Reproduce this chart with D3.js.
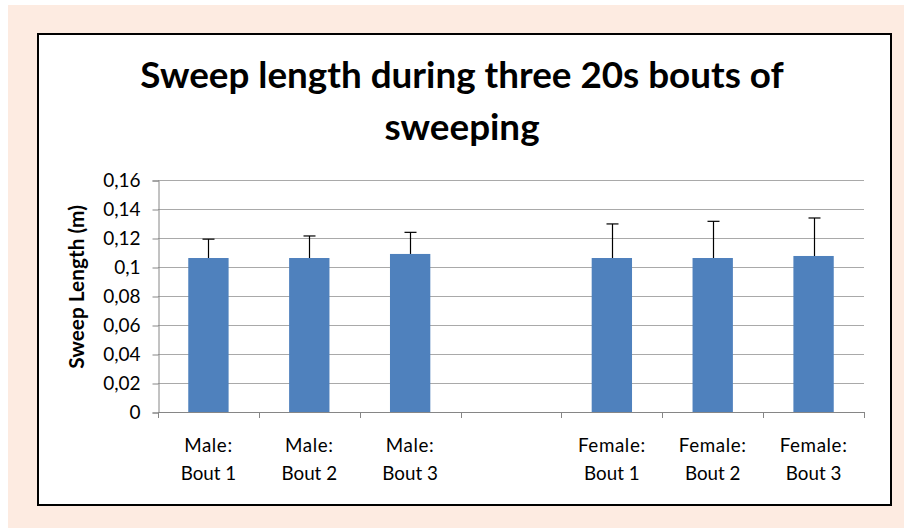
<!DOCTYPE html>
<html>
<head>
<meta charset="utf-8">
<script src="https://cdn.jsdelivr.net/npm/d3@7/dist/d3.min.js"></script>
<style>
  html, body { margin: 0; padding: 0; background: #ffffff; }
  svg { display: block; }
</style>
</head>
<body>
<svg id="chart" width="904" height="528"></svg>
<script>
// ---- data ----
const titleLines = ["Sweep length during three 20s bouts of", "sweeping"];
const yAxisTitle = "Sweep Length (m)";
const categoryKeys = ["m1", "m2", "m3", "gap", "f1", "f2", "f3"];
const categoryLine1 = ["Male:", "Male:", "Male:", "", "Female:", "Female:", "Female:"];
const categoryLine2 = ["Bout 1", "Bout 2", "Bout 3", "", "Bout 1", "Bout 2", "Bout 3"];
const meanValues = [0.1062, 0.1062, 0.1090, null, 0.1062, 0.1062, 0.1076];
const errorValues = [0.0130, 0.0152, 0.0149, null, 0.0235, 0.0253, 0.0262];
const yTicks = [0, 0.02, 0.04, 0.06, 0.08, 0.10, 0.12, 0.14, 0.16];
const yTickLabels = ["0", "0,02", "0,04", "0,06", "0,08", "0,1", "0,12", "0,14", "0,16"];

(function () {
const svg = d3.select("#chart");
const W = 904, H = 528;

// background
svg.append("rect").attr("x", 8).attr("y", 5).attr("width", W - 8).attr("height", H - 5).attr("fill", "#fdebe1");
// chart box
svg.append("rect").attr("x", 38).attr("y", 34).attr("width", 853).attr("height", 471)
  .attr("fill", "#ffffff").attr("stroke", "#000000").attr("stroke-width", 2);

const pLeft = 158, pRight = 864, pTop = 180, pBottom = 412;

const x = d3.scaleBand().domain(categoryKeys).range([pLeft, pRight]).paddingInner(0.6).paddingOuter(0.3);
const xb = d3.scaleBand().domain(categoryKeys).range([pLeft, pRight]);
const y = d3.scaleLinear().domain([0, 0.16]).range([pBottom, pTop]);

// title
const title = svg.append("text").attr("text-anchor", "middle")
  .attr("font-family", "Lato, 'Open Sans', sans-serif").attr("font-weight", "bold")
  .attr("font-size", 36.8).attr("fill", "#000");
title.selectAll("tspan").data(titleLines).join("tspan")
  .attr("x", 462).attr("y", (d, i) => 88 + i * 52).text(d => d);

// gridlines
svg.append("g").selectAll("line").data(yTicks.filter(t => t > 0)).join("line")
  .attr("x1", pLeft).attr("x2", pRight)
  .attr("y1", d => Math.round(y(d)) + 0.5).attr("y2", d => Math.round(y(d)) + 0.5)
  .attr("stroke", "#a9a9a9").attr("stroke-width", 1);

// y axis
const yAxis = d3.axisLeft(y).tickValues(yTicks).tickFormat((d, i) => yTickLabels[i]).tickSize(6).tickPadding(12);
const gy = svg.append("g").attr("transform", `translate(${pLeft + 0.5},0.5)`).call(yAxis);
gy.select(".domain").attr("stroke", "#868686");
gy.selectAll(".tick line").attr("stroke", "#868686");
gy.selectAll(".tick text").attr("font-family", "Lato, 'Open Sans', sans-serif").attr("font-size", 19).attr("fill", "#000");

// x axis
const xTickPositions = categoryKeys.map(k => xb(k)).concat([pRight]);
const gx = svg.append("g");
gx.append("line").attr("x1", pLeft).attr("x2", pRight).attr("y1", pBottom + 0.5).attr("y2", pBottom + 0.5).attr("stroke", "#868686");
gx.selectAll("line.tk").data(xTickPositions).join("line").attr("class", "tk")
  .attr("x1", d => Math.round(d) + 0.5).attr("x2", d => Math.round(d) + 0.5)
  .attr("y1", pBottom).attr("y2", pBottom + 6).attr("stroke", "#868686");

// bars
const barData = categoryKeys.map((k, i) => ({ key: k, v: meanValues[i], e: errorValues[i] })).filter(d => d.v !== null);
svg.append("g").selectAll("rect").data(barData).join("rect")
  .attr("x", d => x(d.key)).attr("width", x.bandwidth())
  .attr("y", d => y(d.v)).attr("height", d => y(0) - y(d.v))
  .attr("fill", "#4f81bd");

// error bars (plus only)
const eg = svg.append("g").attr("stroke", "#000").attr("stroke-width", 1.2);
barData.forEach(d => {
  const cx = Math.round(x(d.key) + x.bandwidth() / 2) + 0.5;
  eg.append("line").attr("x1", cx).attr("x2", cx).attr("y1", y(d.v)).attr("y2", y(d.v + d.e));
  eg.append("line").attr("x1", cx - 6).attr("x2", cx + 6).attr("y1", y(d.v + d.e)).attr("y2", y(d.v + d.e));
});

// category labels
const cl = svg.append("g").attr("font-family", "Lato, 'Open Sans', sans-serif").attr("font-size", 18.8)
  .attr("text-anchor", "middle").attr("fill", "#000");
categoryKeys.forEach((k, i) => {
  const cx = xb(k) + xb.bandwidth() / 2;
  cl.append("text").attr("x", cx).attr("y", 452).attr("letter-spacing", 0.6).text(categoryLine1[i]);
  cl.append("text").attr("x", cx).attr("y", 480).text(categoryLine2[i]);
});

// y axis title
svg.append("text").attr("transform", "translate(84,287) rotate(-90)")
  .attr("text-anchor", "middle").attr("font-family", "Lato, 'Open Sans', sans-serif")
  .attr("font-weight", "bold").attr("font-size", 20.8).attr("fill", "#000").text(yAxisTitle);
})();
</script>
</body>
</html>
